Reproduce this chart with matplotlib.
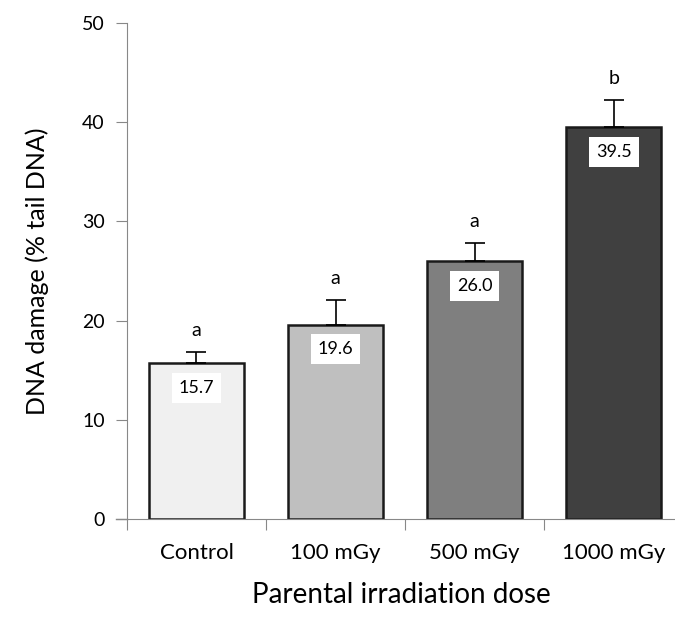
import matplotlib.pyplot as plt

categories = ["Control", "100 mGy", "500 mGy", "1000 mGy"]
means = [15.7, 19.6, 26.0, 39.5]
errors = [1.1, 2.5, 1.8, 2.7]
letters = ["a", "a", "a", "b"]
bar_colors = ["#f0f0f0", "#bfbfbf", "#7f7f7f", "#404040"]

plt.rcParams["font.family"] = ["Lato", "DejaVu Sans"]

fig = plt.figure(figsize=(6.75, 6.28), dpi=100)
ax = fig.add_axes([0.188, 0.1736, 0.812, 0.79])

x = range(len(categories))
ax.bar(x, means, width=0.68, color=bar_colors, edgecolor="#1a1a1a", linewidth=1.8, zorder=2)
ax.errorbar(x, means, yerr=[[0] * len(errors), errors], fmt="none", ecolor="black",
            elinewidth=1.2, capsize=7, capthick=1.2, zorder=3)

for i, (m, e) in enumerate(zip(means, errors)):
    ax.text(i, m - 2.5, f"{m:.1f}", ha="center", va="center", fontsize=13,
            bbox=dict(facecolor="white", edgecolor="none", pad=5), zorder=4)
    ax.text(i, m + e + 1.3, letters[i], ha="center", va="bottom", fontsize=14, zorder=4)

ax.set_xlim(-0.5, 3.44)
ax.set_ylim(0, 50)
ax.set_yticks(range(0, 51, 10))
ax.set_xticks([i - 0.5 for i in range(len(categories))])
ax.set_xticklabels([])
ax.set_xticks(list(x), minor=True)
ax.set_xticklabels(categories, minor=True, fontsize=16)
ax.tick_params(axis="x", which="minor", length=0, pad=17)
ax.tick_params(axis="x", which="major", length=8, color="#888888", direction="out")
ax.tick_params(axis="y", length=8, color="#888888", labelsize=14, pad=8)

for s in ["top", "right"]:
    ax.spines[s].set_visible(False)
for s in ["left", "bottom"]:
    ax.spines[s].set_color("#888888")
ax.plot([-0.58, -0.5], [0, 0], color="#888888", lw=1, clip_on=False)

ax.set_ylabel("DNA damage (% tail DNA)", fontsize=18, labelpad=24)
ax.set_xlabel("Parental irradiation dose", fontsize=20, labelpad=14)

fig.savefig("out.png")
